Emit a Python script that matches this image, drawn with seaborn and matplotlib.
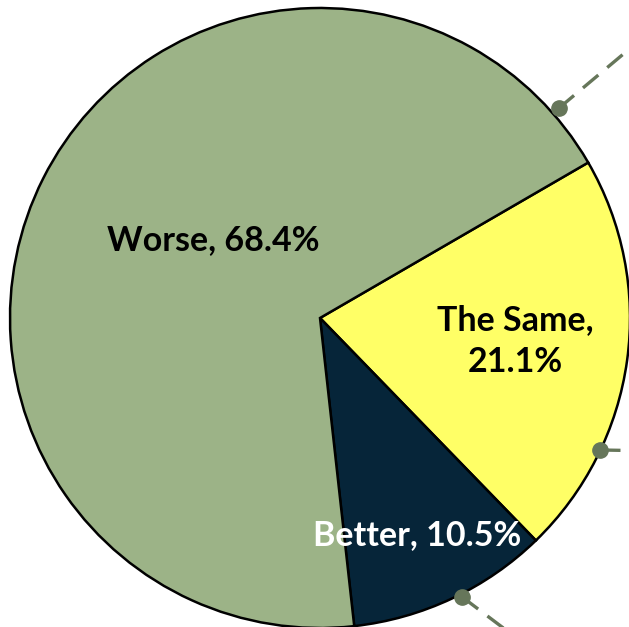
import numpy as np
import matplotlib
matplotlib.use("Agg")
import matplotlib.pyplot as plt
import seaborn as sns

# Survey answers and their shares (percent)
categories = ["The Same", "Better", "Worse"]
shares = [21.1, 10.5, 68.4]
slice_colors = ["#FFFF66", "#062539", "#9CB387"]
label_colors = ["black", "white", "black"]

sns.set_theme(style="white")
plt.rcParams["font.family"] = ["Lato", "DejaVu Sans"]

fig = plt.figure(figsize=(6.29, 6.27), dpi=100)
ax = fig.add_axes([0, 0, 1, 1])

wedges, _ = ax.pie(
    shares,
    colors=slice_colors,
    startangle=30.1,
    counterclock=False,
    radius=1.0,
    wedgeprops=dict(edgecolor="black", linewidth=1.8),
)

# Text placement for each slice label
label_pos = {
    "The Same": (0.629, -0.075),
    "Better": (0.313, -0.70),
    "Worse": (-0.345, 0.252),
}
for cat, val, col in zip(categories, shares, label_colors):
    if cat == "The Same":
        txt = f"{cat},\n{val:.1f}%"
    else:
        txt = f"{cat}, {val:.1f}%"
    x, y = label_pos[cat]
    ax.text(x, y, txt, ha="center", va="center", color=col,
            fontsize=24.5, fontweight="bold", linespacing=1.38)

# Leader callouts running off the rim
leader_color = "#66765A"
leaders = [  # (angle on rim in degrees, radius of dot, direction in degrees, length)
    (41.3, 1.025, 40.0, 0.40),
    (-25.2, 1.0, -1.0, 0.30),
    (-63.0, 1.01, -37.0, 0.30),
]
for ang, rad, direction, length in leaders:
    a = np.deg2rad(ang)
    x0, y0 = rad * np.cos(a), rad * np.sin(a)
    d = np.deg2rad(direction)
    x1, y1 = x0 + length * np.cos(d), y0 + length * np.sin(d)
    ax.plot([x0, x1], [y0, y1], color=leader_color, lw=2.4,
            dashes=(6, 3.5), solid_capstyle="butt", zorder=3, clip_on=True)
    ax.plot([x0], [y0], "o", color=leader_color, ms=11, zorder=4)

ax.set_xlim(-320 / 310, 309 / 310)
ax.set_ylim(-309 / 310, 318 / 310)
ax.set_aspect("equal")
ax.axis("off")

fig.savefig("out.png", dpi=100)
